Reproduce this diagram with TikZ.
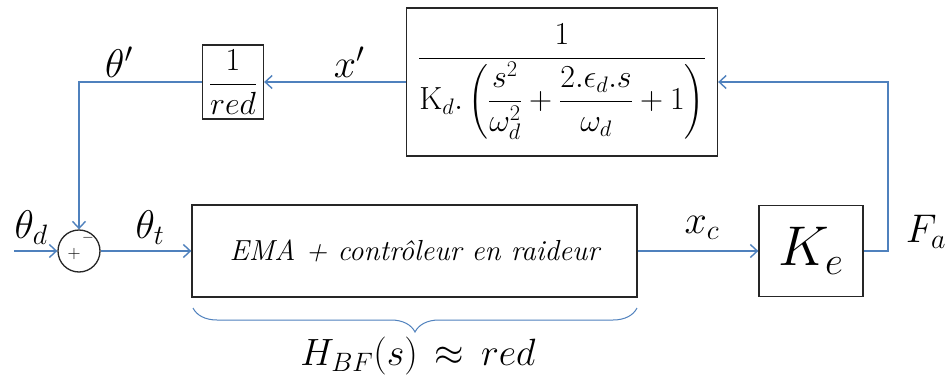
\documentclass[tikz,border=0pt]{standalone}
\usepackage{fix-cm}
\usepackage{amsmath}
\usetikzlibrary{arrows.meta,decorations.pathreplacing}
\definecolor{lineblue}{RGB}{79,129,189}
\begin{document}
\begin{tikzpicture}[x=1pt,y=-1pt,
  blk/.style={draw=black!85,line width=1.3pt,inner sep=0pt,anchor=center},
  sig/.style={draw=lineblue,line width=1.6pt,-{Straight Barb[length=7pt,width=13pt,line width=1.4pt]}},
  lbl/.style={inner sep=0pt,font=\fontsize{40}{44}\selectfont}]
\useasboundingbox (0,0) rectangle (948,383);
\fill[white] (0,0) rectangle (948,383);
% blocks
\node[blk,minimum width=311pt,minimum height=148pt] (G) at (562,82)
  {\fontsize{32}{36}\selectfont$\displaystyle\frac{1}{\mathrm{K}_d.\left(\dfrac{s^2}{\omega_d^2}+\dfrac{2.\epsilon_d.s}{\omega_d}+1\right)}$};
\node[blk,minimum width=61pt,minimum height=74pt] (R) at (233,82)
  {\fontsize{32}{36}\selectfont$\dfrac{1}{red}$};
\node[draw=black!85,line width=1.3pt,circle,minimum size=42pt,inner sep=0pt] (S) at (79,251) {};
\node[inner sep=0pt,font=\fontsize{18}{20}\selectfont] at (74,254) {$+$};
\node[inner sep=0pt,font=\fontsize{15}{16}\selectfont] at (88,238) {$-$};
\node[blk,minimum width=445pt,minimum height=92pt] (E) at (414.5,251)
  {\fontsize{29}{33}\selectfont\itshape EMA + contr\^oleur en raideur};
\node[blk,minimum width=104pt,minimum height=91pt] (K) at (811,251)
  {\fontsize{56}{60}\selectfont$K_e$};
% coordinates
\coordinate (in) at (14,251);
\coordinate (c1) at (888,251);
\coordinate (c2) at (888,82);
\coordinate (c3) at (79,82);
% connectors
\draw[sig] (in) -- (S.west);
\draw[sig] (S.east) -- (E.west);
\draw[sig] (E.east) -- (K.west);
\draw[sig] (K.east) -- (c1) -- (c2) -- (G.east);
\draw[sig] (G.west) -- (R.east);
\draw[sig] (R.west) -- (c3) -- (S.north);
% labels
\node[lbl] at (31,228) {$\theta_d$};
\node[lbl] at (150,228) {$\theta_t$};
\node[lbl] at (119,62) {$\theta'$};
\node[lbl] at (349,62) {$x'$};
\node[lbl] at (702,228) {$x_c$};
\node[lbl] at (926,232) {$F_a$};
% brace
\draw[draw=lineblue,line width=1pt,decorate,decoration={brace,mirror,amplitude=24pt}] (193,308) -- (637,308);
\node[inner sep=0pt,font=\fontsize{38}{42}\selectfont] (H) at (418,356) {$H_{BF}(s)\,\approx\,red$};
\end{tikzpicture}
\end{document}
